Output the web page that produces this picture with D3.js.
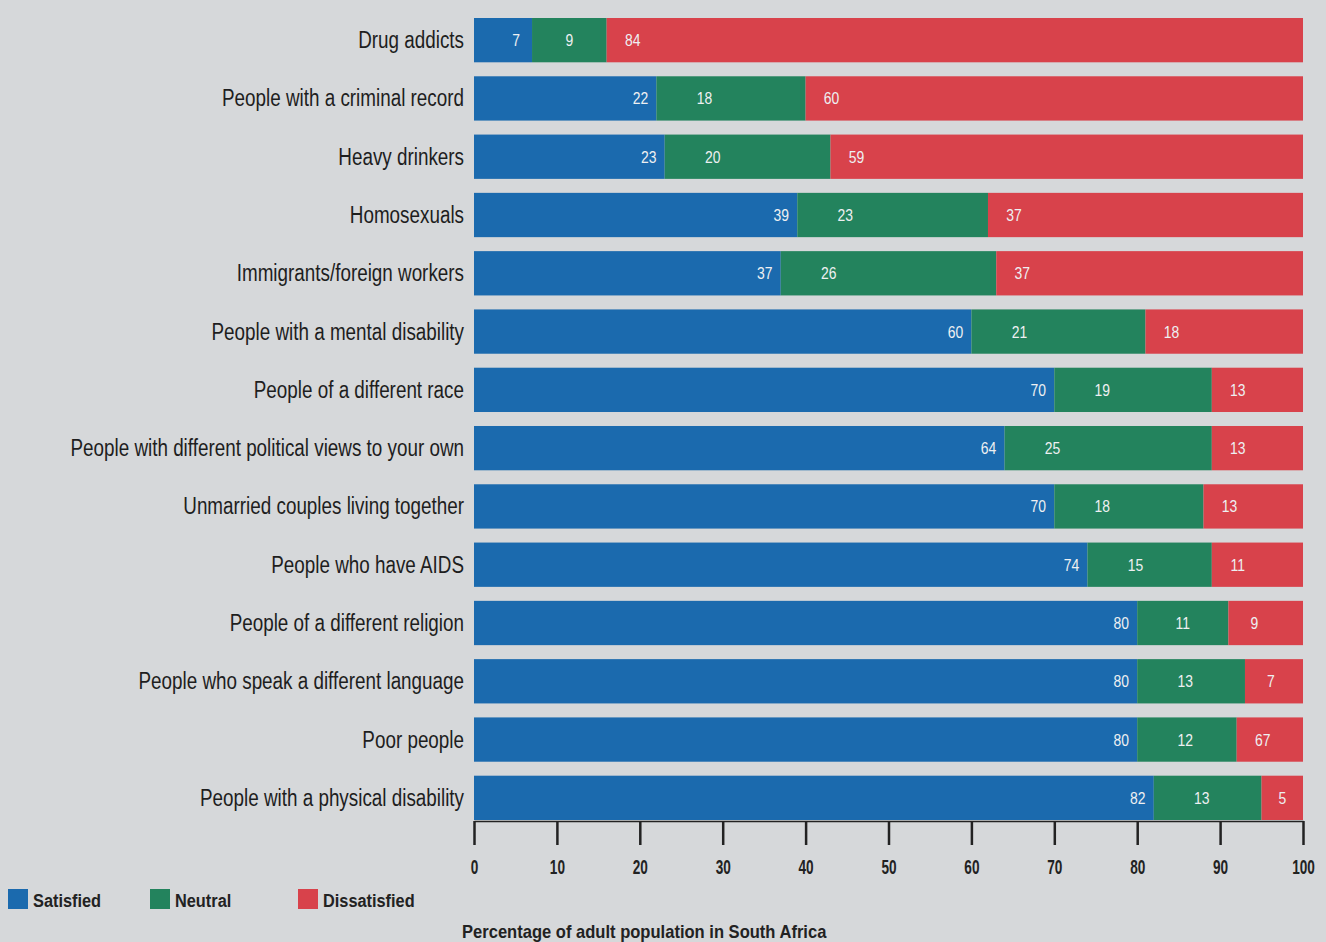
<!DOCTYPE html>
<html>
<head>
<meta charset="utf-8">
<script src="https://cdn.jsdelivr.net/npm/d3@7"></script>
<style>
  body { margin: 0; background: #d6d8da; }
  #chart text { font-family: "Liberation Sans", Arial, sans-serif; }
</style>
</head>
<body>
<div id="chart"></div>
<script>
var width = 1326
var height = 942

// data, top row first
var categories = [
    "Drug addicts",
    "People with a criminal record",
    "Heavy drinkers",
    "Homosexuals",
    "Immigrants/foreign workers",
    "People with a mental disability",
    "People of a different race",
    "People with different political views to your own",
    "Unmarried couples living together",
    "People who have AIDS",
    "People of a different religion",
    "People who speak a different language",
    "Poor people",
    "People with a physical disability"
]
var satisfied    = [7, 22, 23, 39, 37, 60, 70, 64, 70, 74, 80, 80, 80, 82]
var neutral      = [9, 18, 20, 23, 26, 21, 19, 25, 18, 15, 11, 13, 12, 13]
var dissatisfied = [84, 60, 59, 37, 37, 18, 13, 13, 13, 11, 9, 7, 67, 5]
var seriesNames = ["Satisfied", "Neutral", "Dissatisfied"]
var ticks = [0, 10, 20, 30, 40, 50, 60, 70, 80, 90, 100]

var colors = {Satisfied: "#1b6aae", Neutral: "#23835d", Dissatisfied: "#d8424b"}

var svg = d3.select("#chart").append("svg")
    .attr("width", width)
    .attr("height", height)
    .style("display", "block")

var xScale = d3.scaleLinear().domain([0, 100]).range([474, 1303])
var yScale = d3.scaleBand().domain(categories).range([18, 820]).paddingInner(0.24).paddingOuter(0)

// no narrow font installed, so squeeze text horizontally
function squeeze(x, y, sx) {
    return "translate(" + x + "," + y + ") scale(" + sx + ",1)"
}

// segments: satisfied, neutral, then dissatisfied fills the rest of the bar
var rows = categories.map(function(c, i) {
    var s = satisfied[i], n = neutral[i]
    return [
        {cat: c, key: "Satisfied", x0: 0, x1: s, label: s},
        {cat: c, key: "Neutral", x0: s, x1: s + n, label: n},
        {cat: c, key: "Dissatisfied", x0: s + n, x1: 100, label: dissatisfied[i]}
    ]
})
var segs = d3.merge(rows)

svg.append("g").selectAll("rect")
    .data(segs)
    .join("rect")
    .attr("x", d => xScale(d.x0))
    .attr("y", d => yScale(d.cat))
    .attr("width", d => xScale(d.x1) - xScale(d.x0))
    .attr("height", yScale.bandwidth())
    .attr("fill", d => colors[d.key])

function labelX(d) {
    var a = xScale(d.x0), b = xScale(d.x1), w = b - a
    if (d.key == "Satisfied") return b - 16
    if (d.key == "Neutral") return a + Math.min(w / 2, 48)
    return a + Math.min(w / 2, 26)
}

svg.append("g").selectAll("text")
    .data(segs)
    .join("text")
    .attr("transform", d => squeeze(labelX(d), yScale(d.cat) + yScale.bandwidth() / 2 + 6, 0.82))
    .attr("text-anchor", "middle")
    .attr("fill", "#eef0f2")
    .style("font-size", "17px")
    .text(d => d.label)

// category names
svg.append("g").selectAll("text")
    .data(categories)
    .join("text")
    .attr("transform", d => squeeze(464, yScale(d) + yScale.bandwidth() / 2 + 8, 0.82))
    .attr("text-anchor", "end")
    .attr("fill", "#1e1e1e")
    .style("font-size", "23px")
    .text(d => d)

// x axis
var xAxis = d3.axisBottom(xScale)
    .tickValues(ticks)
    .tickSize(24)
    .tickSizeOuter(0)
    .tickPadding(15)

var axisG = svg.append("g")
    .attr("transform", "translate(0,821)")
    .call(xAxis)
axisG.select(".domain").attr("stroke", "#222").attr("stroke-width", 1.5)
axisG.selectAll(".tick line").attr("stroke", "#222").attr("stroke-width", 2.5)
axisG.selectAll(".tick text")
    .attr("fill", "#222")
    .attr("transform", "scale(0.68,1)")
    .style("font-size", "20px")
    .style("font-weight", "bold")

svg.append("text")
    .attr("transform", squeeze(462, 938, 0.92))
    .attr("fill", "#222")
    .style("font-size", "18px")
    .style("font-weight", "bold")
    .text("Percentage of adult population in South Africa")

// legend
var legendX = [8, 150, 298]
var legend = svg.append("g").selectAll("g")
    .data(seriesNames)
    .join("g")
    .attr("transform", (d, i) => "translate(" + legendX[i] + ",889)")
legend.append("rect")
    .attr("width", 20)
    .attr("height", 20)
    .attr("fill", d => colors[d])
legend.append("text")
    .attr("transform", squeeze(25, 18, 0.86))
    .attr("fill", "#222")
    .style("font-size", "19px")
    .style("font-weight", "bold")
    .text(d => d)
</script>
</body>
</html>
